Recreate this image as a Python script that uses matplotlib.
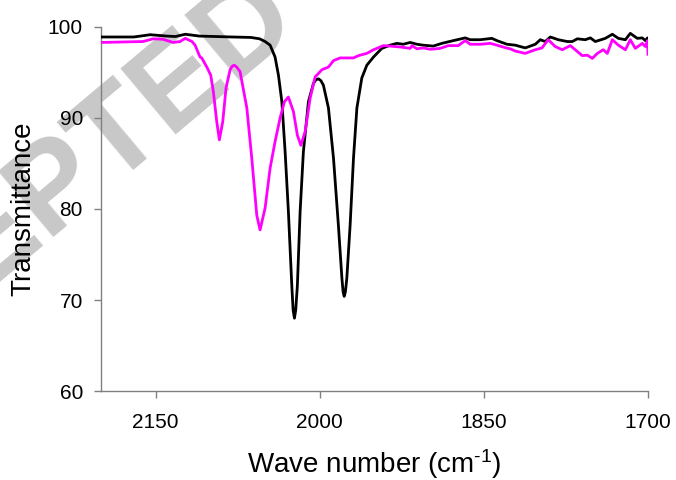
import matplotlib
matplotlib.use("Agg")
import matplotlib.pyplot as plt

plt.rcParams['font.family'] = ['Liberation Sans', 'DejaVu Sans']
plt.rcParams['mathtext.fontset'] = 'custom'
plt.rcParams['mathtext.rm'] = 'Liberation Sans'
plt.rcParams['mathtext.it'] = 'Liberation Sans'

# black spectrum (wave number, transmittance)
wn_black = [2200, 2170, 2155, 2140, 2132, 2123, 2110, 2080, 2063, 2055, 2050,
            2045.4, 2040.9, 2037.8, 2034.7, 2031.7, 2028.7, 2025.6, 2024.4, 2023.2,
            2022.0, 2020.5, 2018, 2015, 2010.4, 2005.8, 2003.5, 2001.2, 1999, 1996.7,
            1992.1, 1987.5, 1983, 1979.8, 1978.7, 1977.7, 1976.6, 1975.3, 1972.3,
            1969.2, 1966.1, 1961.6, 1957, 1950.9, 1943.3, 1935.7, 1929.6, 1923.8,
            1917.4, 1911.2, 1905.5, 1896.3, 1888.4, 1878, 1867.1, 1862.5, 1853.4,
            1842.7, 1838.1, 1828.9, 1821.3, 1812.2, 1803, 1798.5, 1793.9, 1789.3,
            1782, 1773.8, 1769.2, 1764.6, 1757.3, 1752.7, 1748.2, 1739, 1732.6,
            1727.1, 1720.7, 1716.2, 1709.8, 1705.2, 1702.4, 1700.5, 1700]
tr_black = [98.9, 98.9, 99.15, 99.0, 98.95, 99.2, 99.0, 98.9, 98.85, 98.7, 98.4,
            98.0, 96.7, 94.7, 91.8, 86.3, 79.7, 71.6, 68.9, 68.0,
            68.9, 71.6, 79.7, 86.3, 91.8, 93.8, 94.2, 94.3, 94.1, 93.6,
            91.1, 85.6, 78.2, 72.4, 70.9, 70.4, 70.9, 72.4, 78.2,
            85.6, 91.1, 94.4, 95.8, 96.7, 97.65, 98.0, 98.2, 98.1,
            98.3, 98.1, 98.0, 97.9, 98.2, 98.5, 98.8, 98.6, 98.6,
            98.75, 98.5, 98.1, 98.0, 97.7, 98.1, 98.6, 98.4, 98.9,
            98.6, 98.4, 98.4, 98.7, 98.6, 98.8, 98.4, 98.75, 99.2,
            98.75, 98.6, 99.3, 98.75, 98.8, 98.5, 98.8, 98.1]

# magenta spectrum
wn_mag = [2200, 2161.6, 2152.4, 2143.3, 2134.1, 2127.7, 2123, 2116.8, 2114,
          2109.5, 2107.9, 2103.3, 2099.7, 2097.3, 2094.2, 2091.8, 2088.7, 2085.7,
          2082, 2080, 2078.1, 2076, 2072.9, 2066.7, 2062.2, 2057.6, 2054.6, 2050,
          2045.4, 2040.9, 2036.3, 2032.3, 2028.7, 2024.1, 2020.5, 2017.3, 2013.4,
          2008.8, 2004.3, 1998.1, 1992.1, 1987.5, 1981.4, 1969.2, 1964.7, 1957,
          1950.9, 1941.8, 1935.7, 1926.5, 1917.4, 1915.8, 1911.2, 1905.5, 1899.1,
          1889.9, 1882.6, 1873.5, 1867.1, 1862.5, 1853.4, 1844.2, 1838.1, 1829.8,
          1825.9, 1821.3, 1812.2, 1803, 1796.9, 1791.2, 1784.8, 1778.4, 1771,
          1764.6, 1760.1, 1755.5, 1750.9, 1746.3, 1740.9, 1737.2, 1732.6, 1727.1,
          1720.7, 1716.2, 1711.6, 1705.2, 1702.4, 1700.5, 1700]
tr_mag = [98.3, 98.4, 98.7, 98.65, 98.3, 98.4, 98.75, 98.4, 98.0,
          96.7, 96.6, 95.6, 94.7, 92.9, 89.6, 87.6, 89.6, 93.3,
          95.3, 95.7, 95.8, 95.6, 95.1, 91.1, 85.6, 79.3, 77.7, 80.1,
          84.5, 87.4, 90.0, 91.8, 92.3, 90.7, 88.1, 87.0, 88.5,
          92.2, 94.5, 95.3, 95.6, 96.3, 96.6, 96.6, 96.85, 97.1,
          97.5, 97.95, 97.9, 97.8, 97.65, 97.95, 97.6, 97.7, 97.55,
          97.65, 97.95, 97.95, 98.5, 98.1, 98.1, 98.2, 98.0, 97.7,
          97.6, 97.35, 97.1, 97.5, 97.7, 98.6, 97.85, 97.5, 97.95,
          97.3, 96.85, 96.9, 96.55, 97.1, 97.5, 97.1, 98.6, 98.0,
          97.5, 98.6, 97.65, 98.2, 97.85, 98.5, 97.0]

x_ticks = [2150, 2000, 1850, 1700]
y_ticks = [60, 70, 80, 90, 100]

fig = plt.figure(figsize=(6.76, 4.8), dpi=100)
ax = fig.add_axes([0.1494, 0.1854, 0.8092, 0.7584])

# watermark behind the spectra
ax.text(0.448, 0.948, "ACCEPTED", transform=fig.transFigure, rotation=40,
        rotation_mode='anchor', ha='right', va='baseline', fontsize=90,
        fontweight='bold', color='#c8c8c8', zorder=0.5, clip_on=False)

ax.plot(wn_black, tr_black, color='black', lw=2.0, zorder=3)
ax.plot(wn_mag, tr_mag, color='#ff00ff', lw=2.0, zorder=3)

ax.set_xlim(2200, 1700)
ax.set_ylim(60, 100)
ax.set_xticks(x_ticks)
ax.set_yticks(y_ticks)

for s in ['top', 'right']:
    ax.spines[s].set_visible(False)
for s in ['left', 'bottom']:
    ax.spines[s].set_color('#808080')
    ax.spines[s].set_linewidth(1.0)

ax.tick_params(axis='both', direction='out', length=5, width=1.0,
               color='#808080', labelsize=15, labelcolor='black')
ax.tick_params(axis='x', pad=11)
ax.tick_params(axis='y', pad=8)

ax.set_xlabel(r"Wave number (cm$^{\text{-1}}$)", fontsize=20, labelpad=11)
ax.set_ylabel("Transmittance", fontsize=20, labelpad=8)

fig.savefig("out.png", dpi=100)
